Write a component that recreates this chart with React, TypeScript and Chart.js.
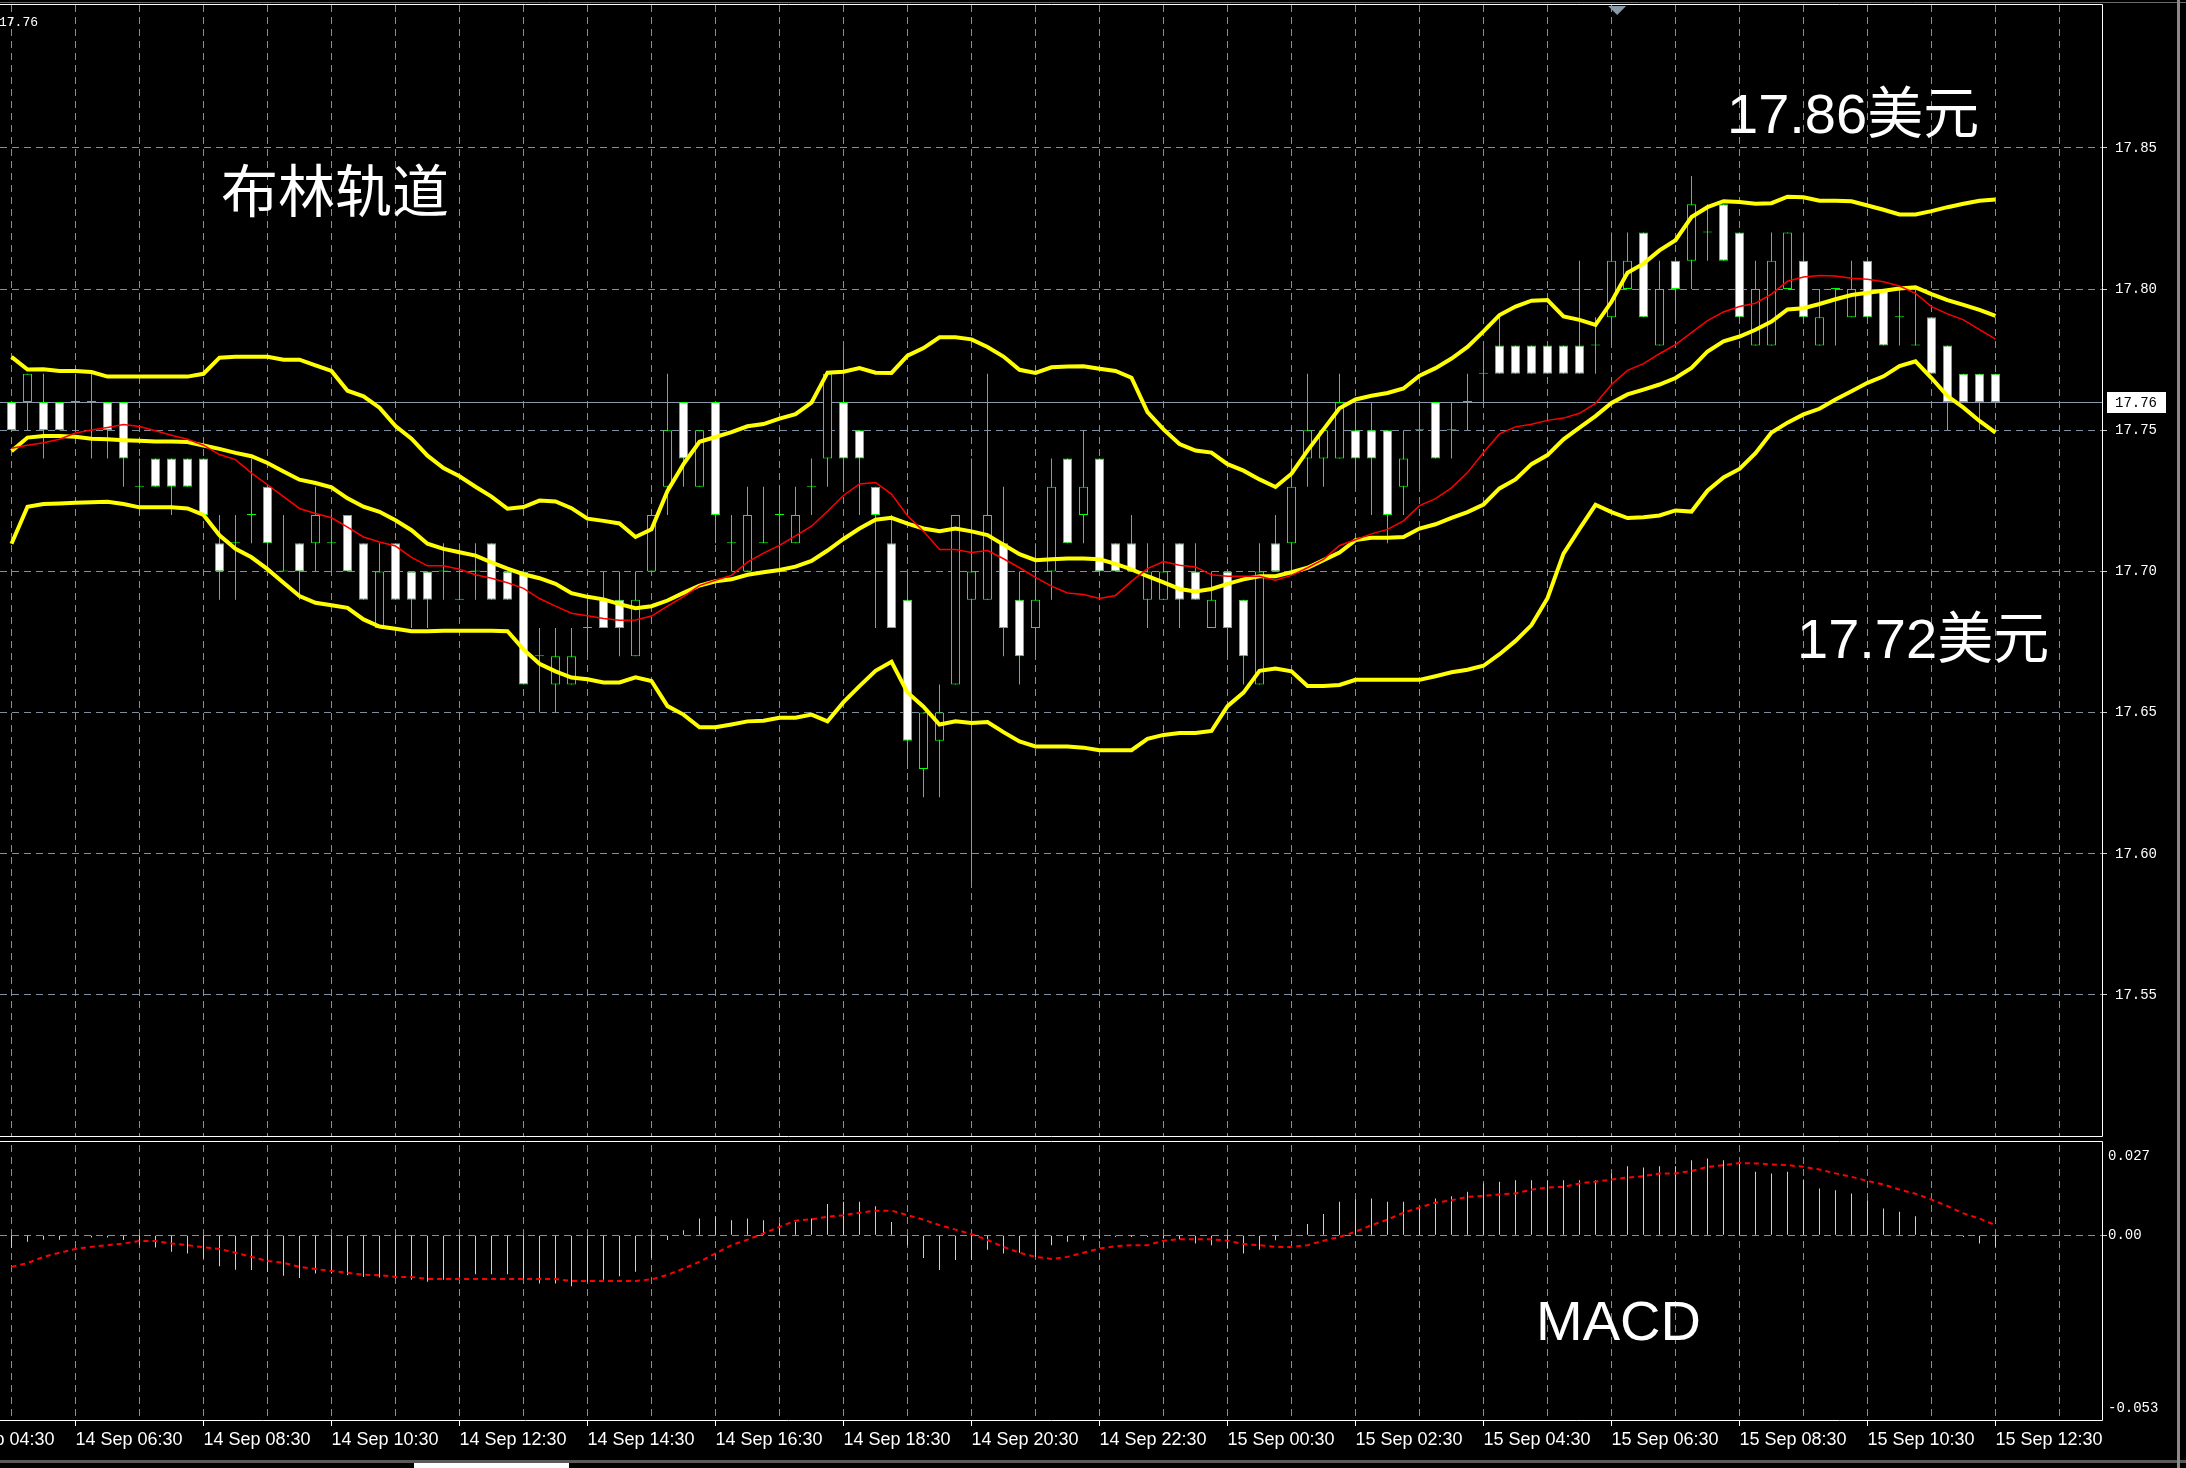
import React, { useEffect, useRef } from 'react';
import { Chart, registerables } from 'chart.js';

Chart.register(...registerables);

// ---------------- data (XAGUSD, M15, 14 Sep 05:30 -> 15 Sep 12:30) ----------------
const candleOpen = [
  17.76,17.76,17.76,17.76,17.76,17.76,17.76,17.76,17.73,17.74,
  17.74,17.74,17.74,17.71,17.71,17.72,17.73,17.70,17.71,17.71,
  17.71,17.72,17.71,17.68,17.71,17.70,17.70,17.70,17.69,17.70,
  17.71,17.70,17.70,17.67,17.66,17.66,17.68,17.69,17.69,17.67,
  17.70,17.73,17.76,17.73,17.76,17.71,17.70,17.71,17.72,17.71,
  17.73,17.74,17.76,17.75,17.73,17.71,17.69,17.63,17.64,17.66,
  17.69,17.69,17.71,17.69,17.68,17.70,17.74,17.72,17.74,17.71,
  17.71,17.69,17.69,17.71,17.70,17.68,17.70,17.69,17.66,17.71,
  17.71,17.74,17.74,17.74,17.75,17.75,17.75,17.73,17.75,17.76,
  17.75,17.76,17.77,17.78,17.78,17.78,17.78,17.78,17.78,17.78,
  17.79,17.80,17.82,17.78,17.81,17.81,17.82,17.83,17.82,17.78,
  17.78,17.80,17.81,17.78,17.80,17.79,17.81,17.80,17.79,17.78,
  17.79,17.78,17.77,17.77,17.77,
];
const candleHigh = [
  17.76,17.77,17.77,17.76,17.77,17.77,17.76,17.76,17.74,17.74,
  17.74,17.74,17.74,17.72,17.72,17.74,17.73,17.72,17.71,17.73,
  17.72,17.72,17.71,17.71,17.71,17.70,17.70,17.71,17.71,17.71,
  17.71,17.70,17.70,17.68,17.68,17.68,17.69,17.70,17.70,17.70,
  17.72,17.77,17.76,17.75,17.76,17.72,17.73,17.73,17.73,17.73,
  17.74,17.77,17.78,17.75,17.73,17.72,17.70,17.65,17.66,17.72,
  17.74,17.77,17.73,17.70,17.71,17.74,17.74,17.75,17.74,17.71,
  17.72,17.71,17.71,17.71,17.71,17.70,17.70,17.69,17.71,17.72,
  17.74,17.77,17.75,17.77,17.76,17.76,17.75,17.75,17.76,17.76,
  17.76,17.77,17.78,17.79,17.78,17.78,17.78,17.78,17.81,17.79,
  17.82,17.82,17.82,17.81,17.81,17.84,17.83,17.83,17.82,17.81,
  17.82,17.82,17.82,17.80,17.80,17.81,17.81,17.80,17.80,17.80,
  17.79,17.78,17.77,17.77,17.77,
];
const candleLow = [
  17.75,17.75,17.74,17.75,17.75,17.74,17.74,17.73,17.72,17.73,
  17.72,17.73,17.72,17.69,17.69,17.71,17.70,17.70,17.69,17.70,
  17.70,17.70,17.69,17.68,17.69,17.68,17.68,17.69,17.69,17.69,
  17.69,17.69,17.66,17.65,17.65,17.66,17.67,17.68,17.67,17.67,
  17.70,17.72,17.73,17.73,17.71,17.70,17.70,17.71,17.70,17.71,
  17.72,17.73,17.73,17.72,17.68,17.68,17.63,17.62,17.62,17.66,
  17.59,17.69,17.67,17.66,17.67,17.69,17.71,17.71,17.70,17.70,
  17.70,17.68,17.69,17.68,17.69,17.68,17.67,17.66,17.66,17.70,
  17.70,17.73,17.73,17.74,17.73,17.72,17.71,17.72,17.73,17.74,
  17.74,17.75,17.76,17.77,17.77,17.77,17.77,17.77,17.77,17.77,
  17.78,17.80,17.79,17.78,17.79,17.80,17.81,17.81,17.79,17.78,
  17.78,17.80,17.79,17.78,17.78,17.79,17.79,17.78,17.78,17.78,
  17.77,17.75,17.76,17.75,17.76,
];
const candleClose = [
  17.75,17.77,17.75,17.75,17.76,17.76,17.75,17.74,17.73,17.73,
  17.73,17.73,17.72,17.70,17.71,17.72,17.71,17.70,17.70,17.72,
  17.71,17.70,17.69,17.70,17.69,17.69,17.69,17.70,17.69,17.70,
  17.69,17.69,17.66,17.67,17.67,17.67,17.68,17.68,17.68,17.69,
  17.72,17.75,17.74,17.75,17.72,17.71,17.72,17.71,17.72,17.72,
  17.73,17.77,17.74,17.74,17.72,17.68,17.64,17.65,17.65,17.72,
  17.70,17.72,17.68,17.67,17.69,17.73,17.71,17.73,17.70,17.70,
  17.70,17.70,17.70,17.69,17.69,17.69,17.68,17.67,17.70,17.70,
  17.73,17.75,17.75,17.76,17.74,17.74,17.72,17.74,17.75,17.74,
  17.75,17.76,17.77,17.77,17.77,17.77,17.77,17.77,17.77,17.78,
  17.81,17.81,17.79,17.80,17.80,17.83,17.82,17.81,17.79,17.80,
  17.81,17.82,17.79,17.79,17.80,17.80,17.79,17.78,17.79,17.78,
  17.77,17.76,17.76,17.76,17.76,
];
const bandUpper = [
  17.776,17.7715,17.7716,17.771,17.771,17.7706,17.769,17.769,17.769,17.769,
  17.769,17.769,17.770,17.7757,17.776,17.776,17.776,17.775,17.775,17.773,
  17.771,17.764,17.762,17.758,17.7515,17.747,17.741,17.7366,17.7337,17.730,
  17.7265,17.7222,17.7228,17.7251,17.7248,17.7224,17.7187,17.7179,17.717,17.7122,
  17.7149,17.7285,17.738,17.7459,17.7476,17.7493,17.7514,17.7522,17.7541,17.7557,
  17.7598,17.7704,17.7707,17.772,17.7704,17.7703,17.7764,17.7791,17.7829,17.7829,
  17.7822,17.7795,17.7761,17.7714,17.7703,17.7723,17.7726,17.7727,17.7718,17.771,
  17.7686,17.7564,17.7503,17.7451,17.7428,17.7421,17.738,17.7357,17.7326,17.7299,
  17.7346,17.7428,17.7503,17.7578,17.7609,17.7622,17.7632,17.7648,17.7693,17.772,
  17.7754,17.7795,17.785,17.7908,17.7938,17.7959,17.7961,17.7903,17.7891,17.7873,
  17.7955,17.8058,17.809,17.8137,17.8173,17.8255,17.829,17.8311,17.8308,17.8302,
  17.8304,17.8327,17.8325,17.8313,17.8313,17.8311,17.8296,17.8281,17.8264,17.8264,
  17.8276,17.829,17.8302,17.8313,17.8317,
];
const bandMiddle = [
  17.7426,17.7474,17.748,17.748,17.7477,17.747,17.7468,17.7465,17.7463,17.746,
  17.746,17.7458,17.7446,17.7434,17.742,17.7408,17.7384,17.7354,17.7325,17.7313,
  17.7298,17.7259,17.7229,17.7211,17.7181,17.7146,17.7098,17.708,17.7068,17.7056,
  17.7032,17.701,17.699,17.6976,17.6956,17.6923,17.691,17.6901,17.6884,17.687,
  17.6877,17.6897,17.6924,17.695,17.6965,17.6972,17.6988,17.6997,17.7005,17.7017,
  17.7037,17.7074,17.7115,17.7152,17.7183,17.719,17.7169,17.7152,17.7142,17.7152,
  17.7142,17.7129,17.7095,17.7061,17.704,17.7043,17.7046,17.7046,17.7043,17.7027,
  17.7007,17.6983,17.6961,17.6938,17.6929,17.6938,17.6956,17.6972,17.6983,17.6983,
  17.6997,17.7013,17.704,17.7067,17.7111,17.7119,17.7119,17.7122,17.7152,17.7167,
  17.719,17.721,17.7237,17.7294,17.7326,17.738,17.7412,17.7468,17.7509,17.755,
  17.7597,17.7627,17.7644,17.7662,17.7685,17.7721,17.7779,17.7815,17.7832,17.7856,
  17.7885,17.7928,17.7932,17.7947,17.7964,17.7979,17.7987,17.7994,17.8002,17.8006,
  17.7982,17.7961,17.7944,17.7926,17.7905,
];
const bandLower = [
  17.7098,17.7229,17.7239,17.7241,17.7243,17.7245,17.7247,17.7239,17.7227,17.7227,
  17.7227,17.7223,17.720,17.7128,17.708,17.705,17.7008,17.696,17.6913,17.6889,
  17.688,17.6871,17.683,17.6805,17.6797,17.6788,17.6788,17.679,17.679,17.679,
  17.679,17.6788,17.6724,17.6673,17.6646,17.6624,17.6618,17.6607,17.6607,17.6625,
  17.6612,17.6523,17.6493,17.6448,17.6448,17.6458,17.6469,17.6471,17.6482,17.6482,
  17.6493,17.6469,17.6537,17.6594,17.6648,17.668,17.6571,17.6521,17.6458,17.6469,
  17.6463,17.6467,17.6431,17.6398,17.638,17.638,17.638,17.6376,17.6367,17.6367,
  17.6367,17.6407,17.6421,17.6428,17.6428,17.6435,17.6523,17.6571,17.6648,17.6656,
  17.6646,17.6594,17.6594,17.6598,17.6616,17.6616,17.6616,17.6616,17.6616,17.6629,
  17.6643,17.6652,17.6666,17.6707,17.6754,17.681,17.6905,17.7063,17.7151,17.7236,
  17.721,17.7189,17.7192,17.7198,17.7216,17.7212,17.7286,17.7333,17.7363,17.7419,
  17.7492,17.7527,17.7556,17.7576,17.7609,17.7638,17.7668,17.7691,17.7727,17.7744,
  17.7685,17.7621,17.758,17.7533,17.7492,
];
const maLine = [
  17.7436,17.7447,17.7456,17.7468,17.749,17.7501,17.751,17.752,17.7513,17.7498,
  17.7482,17.7468,17.7447,17.7414,17.7396,17.7348,17.7307,17.7265,17.7223,17.7205,
  17.719,17.7157,17.7122,17.7104,17.709,17.705,17.702,17.702,17.7008,17.6988,
  17.6976,17.696,17.694,17.6904,17.6877,17.6852,17.6843,17.6833,17.6827,17.6828,
  17.6842,17.6877,17.6911,17.695,17.6969,17.6986,17.7033,17.7065,17.7092,17.7126,
  17.716,17.7213,17.7269,17.731,17.7315,17.7274,17.7197,17.7142,17.7078,17.7078,
  17.7067,17.7074,17.7045,17.7013,17.6979,17.6948,17.6924,17.6918,17.6904,17.6915,
  17.6965,17.701,17.7035,17.7022,17.7016,17.6988,17.6983,17.6983,17.6983,17.6969,
  17.6986,17.7013,17.7043,17.7092,17.7112,17.7133,17.7149,17.7179,17.7233,17.7258,
  17.7296,17.735,17.7421,17.7487,17.7512,17.7521,17.7535,17.7543,17.756,17.7595,
  17.7662,17.7712,17.7736,17.7771,17.7803,17.7846,17.7888,17.7919,17.7938,17.795,
  17.7982,17.8028,17.8043,17.8048,17.8046,17.8038,17.8035,17.8026,17.8011,17.7985,
  17.7938,17.7912,17.7891,17.7856,17.7823,
];
const macdMain = [
  -0.0036,-0.0019,-0.0013,-0.0013,-0.0002,-0.0007,-0.0007,-0.0014,-0.0029,-0.0036,
  -0.0048,-0.0053,-0.0068,-0.009,-0.010,-0.0101,-0.0106,-0.0118,-0.0124,-0.0111,
  -0.0111,-0.0116,-0.0121,-0.0123,-0.0126,-0.0129,-0.0135,-0.0129,-0.0121,-0.0113,
  -0.0113,-0.0113,-0.0126,-0.014,-0.014,-0.0148,-0.0135,-0.0129,-0.0119,-0.0106,
  -0.0066,-0.0014,0.0014,0.0048,0.0055,0.0043,0.0048,0.0043,0.0034,0.0039,
  0.0048,0.009,0.0097,0.0097,0.0084,0.0038,-0.0029,-0.0066,-0.0101,-0.0072,
  -0.0071,-0.0042,-0.0053,-0.0051,-0.0063,-0.0029,-0.0019,-0.0015,-0.001,-0.0005,
  -0.0005,-0.0005,-0.001,-0.0012,-0.0024,-0.0029,-0.0039,-0.0053,-0.0042,-0.0015,
  0.0002,0.0032,0.0061,0.0097,0.0103,0.0106,0.0097,0.0097,0.0084,0.0106,
  0.0113,0.0126,0.015,0.0155,0.0159,0.0159,0.0159,0.0159,0.0159,0.0159,
  0.0179,0.020,0.0196,0.020,0.020,0.0217,0.0222,0.0217,0.0208,0.0184,
  0.0179,0.0184,0.0161,0.0135,0.013,0.0121,0.0101,0.0077,0.0068,0.0055,
  0.001,0.0,-0.0005,-0.0024,-0.0034,
];
const macdSignal = [
  -0.0092,-0.0081,-0.0063,-0.0051,-0.004,-0.0034,-0.0029,-0.0024,-0.0017,-0.0017,
  -0.0024,-0.0029,-0.0035,-0.004,-0.0051,-0.0063,-0.0075,-0.008,-0.0092,-0.0098,
  -0.0104,-0.0109,-0.0115,-0.0116,-0.0121,-0.0121,-0.0127,-0.0127,-0.0127,-0.0127,
  -0.0127,-0.0127,-0.0127,-0.0127,-0.0127,-0.0133,-0.0133,-0.0133,-0.0133,-0.0133,
  -0.0128,-0.0115,-0.0097,-0.0077,-0.0053,-0.0029,-0.0013,0.0005,0.0024,0.0042,
  0.0046,0.0053,0.0058,0.0065,0.0071,0.0071,0.0058,0.0045,0.0029,0.0016,
  0.0003,-0.0014,-0.0034,-0.0051,-0.0063,-0.0069,-0.0063,-0.0051,-0.0039,-0.0032,
  -0.0029,-0.0029,-0.0016,-0.0012,-0.0012,-0.0012,-0.0016,-0.0026,-0.0029,-0.0034,
  -0.0034,-0.0029,-0.0016,-0.0005,0.001,0.0029,0.0045,0.0065,0.008,0.0094,
  0.0101,0.0111,0.0114,0.0118,0.0121,0.0132,0.0138,0.014,0.015,0.0155,
  0.0161,0.0167,0.0171,0.0179,0.0179,0.0186,0.0198,0.0203,0.0209,0.0208,
  0.0205,0.0203,0.0198,0.019,0.0179,0.0169,0.0157,0.0147,0.0132,0.012,
  0.0103,0.0084,0.0063,0.0048,0.0029,
];

const priceTicks = [17.55, 17.6, 17.65, 17.7, 17.75, 17.8, 17.85];
const macdTicks = [0.027, 0, -0.053];
const macdTickLabels = ['0.027', '0.00', '-0.053'];
// time labels, at candle indexes (0 = 14 Sep 05:30, one candle = 15 min)
const timeTickIndex = [-4, 4, 12, 20, 28, 36, 44, 52, 60, 68, 76, 84, 92, 100, 108, 116, 124];
const timeTickLabels = [
  '14 Sep 04:30', '14 Sep 06:30', '14 Sep 08:30', '14 Sep 10:30', '14 Sep 12:30',
  '14 Sep 14:30', '14 Sep 16:30', '14 Sep 18:30', '14 Sep 20:30', '14 Sep 22:30',
  '15 Sep 00:30', '15 Sep 02:30', '15 Sep 04:30', '15 Sep 06:30', '15 Sep 08:30',
  '15 Sep 10:30', '15 Sep 12:30',
];
const gridStep = 4;
const currentPrice = 17.76;
const chartShiftMarker = 100.35;
const titleText = '布林轨道';
const upperNote = '17.86美元';
const lowerNote = '17.72美元';
const macdNote = 'MACD';

// ---------------- styles ----------------
const W = 2186;
const H = 1468;
const GREEN = '#00ff00';
const YELLOW = '#ffff00';
const RED = '#ff0000';
const GRID = '#7f8fa0';
const SILVER = '#d0d0d0';
const AXIS_FONT = '"Liberation Mono", "DejaVu Sans Mono", monospace';
const X_MIN = -0.71875;
const X_MAX = X_MIN + 2102 / 16;

export default function App() {
  const canvasRef = useRef<HTMLCanvasElement | null>(null);

  useEffect(() => {
    document.body.style.margin = '0';
    document.body.style.background = '#000';
    const canvas = canvasRef.current;
    if (!canvas) return;

    const idx = candleOpen.map((_, i) => i);
    const pts = (arr: number[]) => arr.map((y, i) => ({ x: i, y }));
    const wickData = idx.map((i) => ({ x: i, y: [candleLow[i], candleHigh[i]] }));
    const bodyData = idx.map((i) => ({
      x: i,
      y: [Math.min(candleOpen[i], candleClose[i]), Math.max(candleOpen[i], candleClose[i])],
    }));
    const bodyFill = idx.map((i) =>
      candleClose[i] < candleOpen[i] ? '#ffffff' : candleClose[i] > candleOpen[i] ? '#000000' : GREEN
    );

    const labelAt = new Map<number, string>();
    timeTickIndex.forEach((v, k) => labelAt.set(v, timeTickLabels[k]));
    const xTicks: number[] = [];
    for (let v = timeTickIndex[0]; v <= X_MAX; v += gridStep) xTicks.push(v);

    const decor = {
      id: 'mt4decor',
      beforeDraw(chart: any) {
        const { ctx } = chart;
        ctx.save();
        ctx.fillStyle = '#000';
        ctx.fillRect(0, 0, chart.width, chart.height);
        ctx.restore();
      },
      beforeDatasetsDraw(chart: any) {
        const { ctx, chartArea } = chart;
        const y = chart.scales.y;
        const py = Math.round(y.getPixelForValue(currentPrice)) + 0.5;
        ctx.save();
        ctx.strokeStyle = '#8a9aaa';
        ctx.lineWidth = 1;
        ctx.beginPath();
        ctx.moveTo(chartArea.left, py);
        ctx.lineTo(chartArea.right, py);
        ctx.stroke();
        ctx.restore();
      },
      afterDraw(chart: any) {
        const { ctx, chartArea } = chart;
        const x = chart.scales.x;
        const y = chart.scales.y;
        const y2 = chart.scales.y2;
        const R = chartArea.right;
        const rx = R + 0.5;
        ctx.save();
        // separator between the two panels
        ctx.fillStyle = '#000';
        ctx.fillRect(0, y.bottom - 2, R + 1, y2.top + 2 - (y.bottom - 2));
        const seg = (x1: number, y1: number, x2: number, y2p: number) => {
          ctx.beginPath();
          ctx.moveTo(x1, y1);
          ctx.lineTo(x2, y2p);
          ctx.stroke();
        };
        ctx.lineWidth = 1;
        ctx.strokeStyle = '#6a6a6a';
        seg(0, 2.5, W, 2.5);
        ctx.strokeStyle = '#ffffff';
        const top = chartArea.top - 0.5;
        const mainBottom = y.bottom - 2.5;
        const macdTop = y2.top + 2.5;
        const bottom = chartArea.bottom + 0.5;
        seg(0, top, rx, top);
        seg(rx, top, rx, mainBottom);
        seg(0, mainBottom, rx, mainBottom);
        seg(0, macdTop, rx, macdTop);
        seg(rx, macdTop, rx, bottom);
        seg(0, bottom, rx, bottom);

        // current price label on the axis
        const py = y.getPixelForValue(currentPrice);
        ctx.fillStyle = '#ffffff';
        ctx.fillRect(R + 5, Math.round(py) - 10, 59, 21);
        ctx.fillStyle = '#000000';
        ctx.font = `14px ${AXIS_FONT}`;
        ctx.textAlign = 'left';
        ctx.textBaseline = 'middle';
        ctx.fillText(currentPrice.toFixed(2), R + 13, Math.round(py) + 1);

        // top-left bid label
        ctx.fillStyle = '#ffffff';
        ctx.font = `13px ${AXIS_FONT}`;
        ctx.textBaseline = 'alphabetic';
        ctx.fillText(currentPrice.toFixed(2), -1, 26);

        // chart shift marker
        const mx = x.getPixelForValue(chartShiftMarker);
        ctx.fillStyle = '#8899aa';
        ctx.beginPath();
        ctx.moveTo(mx - 9, chartArea.top + 1);
        ctx.lineTo(mx + 9, chartArea.top + 1);
        ctx.lineTo(mx, chartArea.top + 10);
        ctx.closePath();
        ctx.fill();

        // annotations
        ctx.fillStyle = '#ffffff';
        ctx.textAlign = 'left';
        ctx.font = '57px "Noto Sans CJK SC", sans-serif';
        ctx.textBaseline = 'middle';
        ctx.fillText(titleText, 221, 190);
        ctx.textBaseline = 'alphabetic';
        ctx.font = '56px "Liberation Sans", "Noto Sans CJK SC", sans-serif';
        ctx.fillText(upperNote, 1727, 133);
        ctx.fillText(lowerNote, 1797, 658);
        ctx.font = '56px "Liberation Sans", Arial, sans-serif';
        ctx.fillText(macdNote, 1536, 1340);

        // bottom strip and window edge
        ctx.fillStyle = '#5a5a5a';
        ctx.fillRect(0, 1460, W, 3);
        ctx.fillStyle = '#000';
        ctx.fillRect(0, 1463, W, 5);
        ctx.fillStyle = '#ffffff';
        ctx.fillRect(414, 1463, 155, 5);
        ctx.fillStyle = '#8a8a8a';
        ctx.fillRect(2177, 0, 3, H);
        ctx.restore();
      },
    };

    const chart = new Chart(canvas, {
      type: 'bar',
      data: {
        datasets: [
          { type: 'line', label: 'Upper', data: pts(bandUpper), borderColor: YELLOW, borderWidth: 4, pointRadius: 0, tension: 0, yAxisID: 'y', order: 2 },
          { type: 'line', label: 'Middle', data: pts(bandMiddle), borderColor: YELLOW, borderWidth: 4, pointRadius: 0, tension: 0, yAxisID: 'y', order: 2 },
          { type: 'line', label: 'Lower', data: pts(bandLower), borderColor: YELLOW, borderWidth: 4, pointRadius: 0, tension: 0, yAxisID: 'y', order: 2 },
          { type: 'line', label: 'MA', data: pts(maLine), borderColor: RED, borderWidth: 1.5, pointRadius: 0, tension: 0, yAxisID: 'y', order: 1 },
          { type: 'bar', label: 'Body', data: bodyData as any, backgroundColor: bodyFill, borderColor: GREEN, borderWidth: 1, borderSkipped: false, barThickness: 9, grouped: false, inflateAmount: 0, minBarLength: 1, yAxisID: 'y', order: 5 },
          { type: 'bar', label: 'Wick', data: wickData as any, backgroundColor: GREEN, borderWidth: 0, barThickness: 1, grouped: false, inflateAmount: 0, yAxisID: 'y', order: 6 },
          { type: 'bar', label: 'MACD', data: pts(macdMain), backgroundColor: SILVER, borderWidth: 0, barThickness: 1, grouped: false, inflateAmount: 0, yAxisID: 'y2', order: 4 },
          { type: 'line', label: 'Signal', data: pts(macdSignal), borderColor: RED, borderWidth: 2, borderDash: [5, 4], pointRadius: 0, tension: 0, yAxisID: 'y2', order: 1 },
        ] as any,
      },
      options: {
        responsive: false,
        animation: false,
        devicePixelRatio: 1,
        events: [],
        layout: { padding: { top: 5, left: 0, right: 0, bottom: 0 } },
        plugins: { legend: { display: false }, tooltip: { enabled: false } },
        scales: {
          x: {
            type: 'linear',
            position: 'bottom',
            min: X_MIN,
            max: X_MAX,
            offset: false,
            grid: {
              offset: false,
              color: GRID,
              lineWidth: 1,
              drawTicks: true,
              tickLength: 6,
              tickWidth: 1,
              tickBorderDash: [],
              tickColor: (c: any) => (labelAt.has(c.tick?.value) ? '#ffffff' : 'rgba(0,0,0,0)'),
            },
            border: { display: false, dash: [7, 5] },
            ticks: {
              autoSkip: false,
              maxRotation: 0,
              minRotation: 0,
              align: 'start',
              padding: 3,
              color: '#ffffff',
              font: { family: '"Liberation Sans", Arial, sans-serif', size: 18 },
              callback: (v: any) => labelAt.get(Number(v)) ?? '',
            },
            afterBuildTicks: (s: any) => {
              s.ticks = xTicks.map((v) => ({ value: v }));
            },
            afterFit: (s: any) => {
              s.height = 48;
              s.paddingLeft = 0;
              s.paddingRight = 0;
            },
          },
          y: {
            type: 'linear',
            position: 'right',
            stack: 'panels',
            stackWeight: 1134,
            min: 17.499,
            max: 17.9006,
            beginAtZero: false,
            grid: { color: GRID, lineWidth: 1, tickLength: 5, tickColor: '#d0d0d0', tickBorderDash: [] },
            border: { display: false, dash: [7, 5] },
            ticks: {
              color: '#ffffff',
              padding: 8,
              autoSkip: false,
              font: { family: AXIS_FONT, size: 14 },
              callback: (v: any) => Number(v).toFixed(2),
            },
            afterBuildTicks: (s: any) => {
              s.ticks = priceTicks.map((v) => ({ value: v }));
            },
            afterFit: (s: any) => {
              s.width = 84;
              s.paddingTop = 0;
              s.paddingBottom = 0;
            },
          },
          y2: {
            type: 'linear',
            position: 'right',
            stack: 'panels',
            stackWeight: 281,
            min: -0.05358,
            max: 0.02787,
            beginAtZero: false,
            grid: {
              lineWidth: 1,
              tickLength: 5,
              tickBorderDash: [],
              color: (c: any) => (c.tick?.value === 0 ? GRID : 'rgba(0,0,0,0)'),
              tickColor: (c: any) => (c.tick?.value === 0 ? '#d0d0d0' : 'rgba(0,0,0,0)'),
            },
            border: { display: false, dash: [7, 5] },
            ticks: {
              color: '#ffffff',
              padding: 1,
              autoSkip: false,
              font: (c: any) => ({
                family: AXIS_FONT,
                size: 14,
                lineHeight: c.tick?.value === macdTicks[0] ? '28px' : c.tick?.value === macdTicks[2] ? '20px' : 1.2,
              }),
              callback: (v: any) => {
                const k = macdTicks.indexOf(Number(v));
                if (k === 0) return ['', macdTickLabels[0]];
                if (k === 2) return [macdTickLabels[2], ''];
                return k === 1 ? macdTickLabels[1] : '';
              },
            },
            afterBuildTicks: (s: any) => {
              s.ticks = [...macdTicks].sort((a, b) => a - b).map((v) => ({ value: v }));
            },
            afterFit: (s: any) => {
              s.width = 84;
              s.paddingTop = 0;
              s.paddingBottom = 0;
            },
          },
        },
      } as any,
      plugins: [decor],
    });

    return () => chart.destroy();
  }, []);

  return (
    <div style={{ position: 'fixed', left: 0, top: 0, width: W, height: H, background: '#000' }}>
      <canvas ref={canvasRef} width={W} height={H} style={{ display: 'block', width: W, height: H }} />
    </div>
  );
}
